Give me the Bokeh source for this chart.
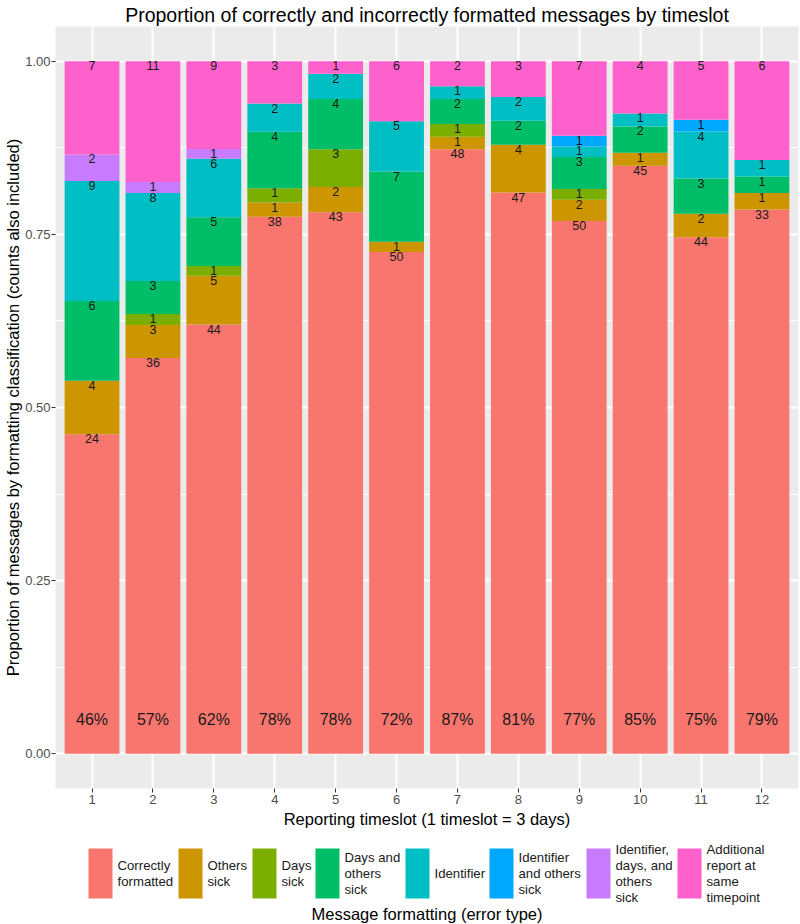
from bokeh.plotting import figure
from bokeh.models import ColumnDataSource, Range1d, FixedTicker
from bokeh.layouts import column
from bokeh.embed import file_html
from bokeh.resources import INLINE
from bokeh.core.properties import value

# ---------------- data ----------------
timeslots = [1, 2, 3, 4, 5, 6, 7, 8, 9, 10, 11, 12]
correctly_formatted = [24, 36, 44, 38, 43, 50, 48, 47, 50, 45, 44, 33]
others_sick = [4, 3, 5, 1, 2, 1, 1, 4, 2, 1, 2, 1]
days_sick = [0, 1, 1, 1, 3, 0, 1, 0, 1, 0, 0, 0]
days_and_others_sick = [6, 3, 5, 4, 4, 7, 2, 2, 3, 2, 3, 1]
identifier = [9, 8, 6, 2, 2, 5, 1, 2, 1, 1, 4, 1]
identifier_and_others_sick = [0, 0, 0, 0, 0, 0, 0, 0, 1, 0, 1, 0]
identifier_days_others_sick = [2, 1, 1, 0, 0, 0, 0, 0, 0, 0, 0, 0]
additional_report = [7, 11, 9, 3, 1, 6, 2, 3, 7, 4, 5, 6]

categories = ["Correctly formatted", "Others sick", "Days sick", "Days and others sick",
              "Identifier", "Identifier and others sick",
              "Identifier, days, and others sick", "Additional report at same timepoint"]
legend_labels = ["Correctly\nformatted", "Others\nsick", "Days\nsick", "Days and\nothers\nsick",
                 "Identifier", "Identifier\nand others\nsick", "Identifier,\ndays, and\nothers\nsick",
                 "Additional\nreport at\nsame\ntimepoint"]
series = [correctly_formatted, others_sick, days_sick, days_and_others_sick,
          identifier, identifier_and_others_sick, identifier_days_others_sick, additional_report]
colors = ["#F8766D", "#CD9600", "#7CAE00", "#00BE67", "#00BFC4", "#00A9FF", "#C77CFF", "#FF61CC"]

y_ticks = [0.0, 0.25, 0.5, 0.75, 1.0]
y_tick_labels = ["0.00", "0.25", "0.50", "0.75", "1.00"]
y_minor = [0.125, 0.375, 0.625, 0.875]

FONT = "Liberation Sans"

# ---------------- derived ----------------
totals = [sum(s[i] for s in series) for i in range(len(timeslots))]
keys = ["c%d" % k for k in range(len(categories))]
data = {"x": timeslots}
for k, s in zip(keys, series):
    data[k] = [v / t for v, t in zip(s, totals)]
src = ColumnDataSource(data)

lx, ly, lt = [], [], []
for i, x in enumerate(timeslots):
    cum = 0
    for s in series:
        cum += s[i]
        if s[i] > 0:
            lx.append(x)
            ly.append(cum / totals[i])
            lt.append(str(s[i]))
lab_src = ColumnDataSource(dict(x=lx, y=ly, t=lt))

pct_src = ColumnDataSource(dict(
    x=timeslots, y=[0.05] * len(timeslots),
    t=["%d%%" % int(round(100.0 * c / t)) for c, t in zip(correctly_formatted, totals)]))

# ---------------- layout constants ----------------
W = 800
LEFT, RIGHT = 55, 2
MAIN_H = 830
LEG_H = 94

# ---------------- main figure ----------------
p = figure(width=W, height=MAIN_H, x_range=Range1d(0.4, 12.6), y_range=Range1d(-0.05, 1.05),
           output_backend="svg", toolbar_location=None,
           min_border_left=LEFT, min_border_right=RIGHT, min_border_top=0, min_border_bottom=0,
           background_fill_color="#EBEBEB", border_fill_color="white", outline_line_color=None)

p.title.text = "Proportion of correctly and incorrectly formatted messages by timeslot"
p.title.align = "center"
p.title.text_font = FONT
p.title.text_font_size = "19.5px"
p.title.text_font_style = "normal"
p.title.text_color = "black"
p.title.standoff = 2

p.vbar_stack(keys, x="x", width=0.9, fill_color=colors, line_color=None, source=src)

p.text(x="x", y="y", text="t", source=lab_src, text_align="center", text_baseline="top",
       text_font=value(FONT), text_font_size=value("12.5px"), text_color="#1a1a1a")
p.text(x="x", y="y", text="t", source=pct_src, text_align="center", text_baseline="middle",
       text_font=value(FONT), text_font_size=value("16px"), text_color="#1a1a1a")

p.xaxis.ticker = FixedTicker(ticks=timeslots)
p.yaxis.ticker = FixedTicker(ticks=y_ticks, minor_ticks=y_minor)
p.yaxis.major_label_overrides = {t: l for t, l in zip(y_ticks, y_tick_labels)}

for ax in (p.xaxis[0], p.yaxis[0]):
    ax.axis_line_color = None
    ax.major_tick_line_color = "#333333"
    ax.major_tick_line_width = 1
    ax.major_tick_out = 4
    ax.major_tick_in = 0
    ax.minor_tick_line_color = None
    ax.major_label_text_font = FONT
    ax.major_label_text_font_size = "13px"
    ax.major_label_text_color = "#4D4D4D"
    ax.axis_label_text_font = FONT
    ax.axis_label_text_font_size = "16.5px"
    ax.axis_label_text_font_style = "normal"
    ax.axis_label_text_color = "black"

p.xaxis.axis_label = "Reporting timeslot (1 timeslot = 3 days)"
p.yaxis.axis_label = "Proportion of messages by formatting classification (counts also included)"
p.xaxis.major_label_standoff = 2
p.xaxis.axis_label_standoff = 3
p.yaxis.major_label_standoff = 1
p.yaxis.axis_label_standoff = 0

p.xgrid.grid_line_color = "white"
p.xgrid.grid_line_width = 2
p.ygrid.grid_line_color = "white"
p.ygrid.grid_line_width = 2
p.ygrid.minor_grid_line_color = "white"
p.ygrid.minor_grid_line_width = 1

# ---------------- legend figure ----------------
leg = figure(width=W, height=LEG_H, x_range=Range1d(LEFT, W - RIGHT), y_range=Range1d(LEG_H, 0),
             x_axis_type=None, y_axis_type=None, output_backend="svg", toolbar_location=None,
             min_border_left=LEFT, min_border_right=RIGHT, min_border_top=0, min_border_bottom=0,
             outline_line_color=None, background_fill_color="white", border_fill_color="white")
leg.xgrid.visible = False
leg.ygrid.visible = False

key_left = [88, 178, 252, 315, 405, 489, 586, 677]   # legend item layout (px)
key_w, key_top, key_bot = 24, 18, 68
leg.quad(left=key_left, right=[k + key_w for k in key_left],
         top=[key_top] * len(key_left), bottom=[key_bot] * len(key_left),
         fill_color=colors, line_color=None)
leg.text(x=[k + key_w + 5 for k in key_left], y=[(key_top + key_bot) / 2] * len(key_left),
         text=legend_labels, text_align="left", text_baseline="middle",
         text_font=value(FONT), text_font_size=value("13.2px"), text_color="#1a1a1a",
         text_line_height=1.05)
leg.text(x=[(LEFT + W - RIGHT) / 2], y=[83], text=["Message formatting (error type)"],
         text_align="center", text_baseline="middle", text_font=value(FONT),
         text_font_size=value("16.5px"), text_color="black")

layout = column(p, leg, spacing=0)
open("out.html", "w").write(file_html(layout, INLINE))
